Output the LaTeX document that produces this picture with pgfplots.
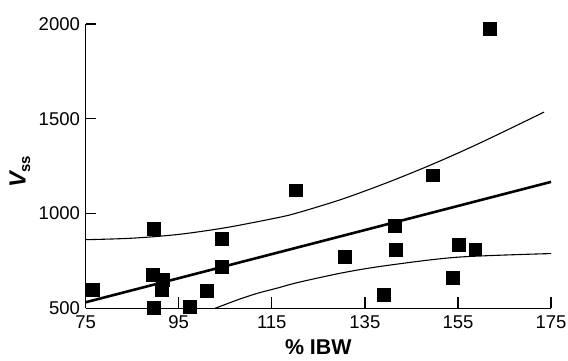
\documentclass[border=0pt]{standalone}
\usepackage{fontspec}
\setmainfont{Liberation Sans}
\usepackage{pgfplots}
\pgfplotsset{compat=1.18}
\begin{document}
\begin{tikzpicture}
\begin{axis}[
  scale only axis,
  width=468pt, height=286pt,
  xmin=75, xmax=175, ymin=500, ymax=2000,
  axis x line=bottom, axis y line=left,
  axis line style={-, line width=1.3pt},
  xtick={75,95,115,135,155,175},
  ytick={500,1000,1500,2000},
  tick align=inside,
  major tick length=11pt,
  tick style={line width=1.3pt, black},
  /pgf/number format/assume math mode=true,
  /pgf/number format/1000 sep={},
  xticklabel style={font=\fontsize{18.6}{19}\selectfont, inner sep=0pt, yshift=-7.5pt},
  yticklabel style={font=\fontsize{18.6}{19}\selectfont, inner sep=0pt, xshift=-5.5pt},
  every axis x label/.style={at={(axis description cs:0.5,-0.137)}, anchor=center},
  every axis y label/.style={at={(axis description cs:-0.141,0.48)}, rotate=90, anchor=center},
  xlabel={\fontsize{21.5}{22}\selectfont\bfseries \% IBW},
  ylabel={\fontsize{23.5}{24}\selectfont\bfseries\itshape V\raisebox{-0.35ex}{\upshape\fontsize{15}{16}\selectfont ss}},
  clip=false,
]
% regression line
\addplot[black, line width=2.6pt] coordinates {(75,532) (175,1167)};
% upper confidence band
\addplot[black, line width=1.1pt, smooth] coordinates {
 (75,862) (85,870) (95,890) (105,925) (115,972) (120,1000) (130,1075) (140,1165) (150,1265) (160,1375) (173.5,1535)};
% lower confidence band
\addplot[black, line width=1.1pt, smooth] coordinates {
 (102.8,500) (108,548) (112,580) (116.5,609) (120.7,637) (130.7,690) (140,727) (155,770) (175,789)};
% data
\addplot[only marks, mark=square*, mark size=6.5pt, mark options={fill=black, draw=black, rounded corners=1pt}] coordinates {
 (76.6,596) (89.6,921) (89.6,503) (89.4,679) (91.5,649) (91.4,596) (97.4,509)
 (101.1,593) (104.3,868) (104.3,719) (120.2,1123) (130.7,772) (139.1,574)
 (141.4,938) (141.7,807) (149.6,1202) (153.8,661) (155.1,838) (158.7,812) (161.8,1977)};
\end{axis}
\pgfresetboundingbox
\path (-86pt,-52pt) rectangle (485pt,310pt);
\end{tikzpicture}
\end{document}
